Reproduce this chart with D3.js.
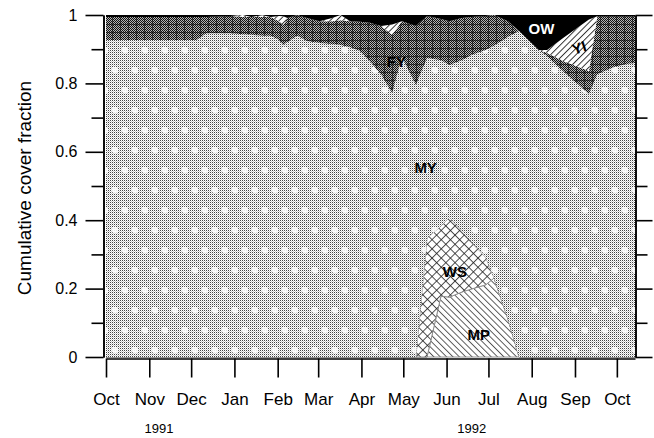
<!DOCTYPE html>
<html><head><meta charset="utf-8">
<script src="https://cdn.jsdelivr.net/npm/d3@7/dist/d3.min.js"></script>
<style>
html,body{margin:0;padding:0;background:#fff;}
svg text{font-family:"Liberation Sans",Arial,Helvetica,sans-serif;}
</style></head>
<body>
<svg id="chart" width="654" height="438"></svg>
<script>
// ---- data (fractions per sample date) ----
const dates = ["1991-10-01","1991-11-01","1991-12-05","1991-12-12","1991-12-29","1992-01-07","1992-01-13","1992-01-21","1992-01-27","1992-02-02","1992-02-05","1992-02-08","1992-02-15","1992-02-22","1992-03-02","1992-03-11","1992-03-17","1992-03-24","1992-03-31","1992-04-07","1992-04-15","1992-04-23","1992-04-30","1992-05-10","1992-05-18","1992-05-28","1992-06-03","1992-06-12","1992-06-19","1992-06-29","1992-07-05","1992-07-15","1992-07-23","1992-08-06","1992-08-12","1992-08-24","1992-09-11","1992-09-17","1992-09-29","1992-10-08","1992-10-14"];
const MP = [0,0,0,0,0,0,0,0,0,0,0,0,0,0,0,0,0,0,0,0,0,0,0,0,0,.178,.175,.190,.199,.211,.231,.111,0,0,0,0,0,0,0,0,0];
const WS = [0,0,0,0,0,0,0,0,0,0,0,0,0,0,0,0,0,0,0,0,0,0,0,0,.348,.205,.234,.178,.137,.081,0,0,0,0,0,0,0,0,0,0,0];
const MY = [.927,.927,.927,.947,.947,.944,.942,.939,.939,.927,.912,.921,.939,.924,.918,.915,.912,.906,.895,.865,.827,.772,.877,.795,.526,.485,.445,.500,.547,.606,.679,.825,.953,.898,.880,.833,.769,.827,.848,.857,.860];
const FY = [.067,.067,.067,.047,.050,.050,.052,.055,.055,.055,.059,.070,.061,.067,.064,.067,.073,.076,.085,.112,.141,.170,.105,.173,.123,.120,.128,.123,.111,.099,.090,.046,0,0,.009,.032,.067,.169,.148,.139,.136];
const YI = [0,0,0,0,0,.006,0,.005,0,.015,.025,0,0,0,0,.009,.015,0,0,0,0,.030,0,0,0,0,0,0,0,0,0,0,0,0,.009,.069,.151,0,0,0,0];
const OW = [.006,.006,.006,.006,.003,0,.006,.001,.006,.003,.004,.009,0,.009,.018,.009,0,.018,.020,.023,.032,.028,.018,.032,.003,.012,.018,.009,.006,.003,0,.018,.047,.102,.102,.066,.013,.004,.004,.004,.004];
const monthTicks = ["1991-10-01","1991-11-01","1991-12-01","1992-01-01","1992-02-01","1992-03-01","1992-04-01","1992-05-01","1992-06-01","1992-07-01","1992-08-01","1992-09-01","1992-10-01"];
const monthLabels = ["Oct","Nov","Dec","Jan","Feb","Mar","Apr","May","Jun","Jul","Aug","Sep","Oct"];
const yearLabels = [{t:"1991", d:"1991-11-08"}, {t:"1992", d:"1992-06-19"}];
const yTicks = [0,0.1,0.2,0.3,0.4,0.5,0.6,0.7,0.8,0.9,1];
const regionLabels = [
  {k:"MY", d:"1992-05-17", v:0.555},
  {k:"FY", d:"1992-04-26", v:0.865},
  {k:"WS", d:"1992-06-07", v:0.25},
  {k:"MP", d:"1992-06-24", v:0.065},
  {k:"OW", d:"1992-08-08", v:0.96},
  {k:"YI", d:"1992-09-04", v:0.905}
];
const keys = ["MP","WS","MY","FY","YI","OW"];

// ---- build ----
const parse = d3.utcParse("%Y-%m-%d");
const series = {MP,WS,MY,FY,YI,OW};
const rows = dates.map((d,i)=>{const r={date:parse(d)}; keys.forEach(k=>r[k]=series[k][i]); return r;});

const svg = d3.select("#chart");
const x = d3.scaleUtc().domain([parse("1991-10-01"), parse("1992-10-14")]).range([106,635]);
const y = d3.scaleLinear().domain([0,1]).range([357,15]);

const defs = svg.append("defs");
// MY: fine stipple + white blobs
let p = defs.append("pattern").attr("id","dots").attr("width",2).attr("height",2).attr("patternUnits","userSpaceOnUse");
p.append("rect").attr("width",2).attr("height",2).attr("fill","#fff");
p.append("rect").attr("width",1).attr("height",1).attr("fill","#444");
p.append("rect").attr("x",1).attr("y",1).attr("width",1).attr("height",1).attr("fill","#c8c8c8");
p = defs.append("pattern").attr("id","blobs").attr("width",20).attr("height",40).attr("patternUnits","userSpaceOnUse");
p.append("circle").attr("cx",5).attr("cy",10).attr("r",3.3).attr("fill","#fff").attr("fill-opacity",0.85);
p.append("circle").attr("cx",15).attr("cy",30).attr("r",3.3).attr("fill","#fff").attr("fill-opacity",0.85);
// FY: dark checker + grid
p = defs.append("pattern").attr("id","fy").attr("width",2).attr("height",2).attr("patternUnits","userSpaceOnUse");
p.append("rect").attr("width",2).attr("height",2).attr("fill","#b4b4b4");
p.append("rect").attr("width",1).attr("height",1).attr("fill","#111");
p.append("rect").attr("x",1).attr("y",1).attr("width",1).attr("height",1).attr("fill","#111");
p = defs.append("pattern").attr("id","fygrid").attr("width",8).attr("height",8).attr("patternUnits","userSpaceOnUse");
p.append("path").attr("d","M0,0.5H8M0.5,0V8").attr("stroke","#000").attr("stroke-opacity",0.55).attr("stroke-width",1);
// YI: ///
p = defs.append("pattern").attr("id","yi").attr("width",4.5).attr("height",4.5).attr("patternUnits","userSpaceOnUse").attr("patternTransform","rotate(45)");
p.append("rect").attr("width",4.5).attr("height",4.5).attr("fill","#fff");
p.append("line").attr("x1",0.5).attr("x2",0.5).attr("y1",0).attr("y2",4.5).attr("stroke","#222").attr("stroke-width",0.9);
// MP: \\\
p = defs.append("pattern").attr("id","mp").attr("width",4.5).attr("height",4.5).attr("patternUnits","userSpaceOnUse").attr("patternTransform","rotate(-45)");
p.append("rect").attr("width",4.5).attr("height",4.5).attr("fill","#fff");
p.append("line").attr("x1",0.5).attr("x2",0.5).attr("y1",0).attr("y2",4.5).attr("stroke","#333").attr("stroke-width",0.8);
// WS: crosshatch
p = defs.append("pattern").attr("id","ws").attr("width",6.5).attr("height",6.5).attr("patternUnits","userSpaceOnUse").attr("patternTransform","rotate(45)");
p.append("rect").attr("width",6.5).attr("height",6.5).attr("fill","#fff");
p.append("path").attr("d","M0.5,0V6.5M0,0.5H6.5").attr("stroke","#222").attr("stroke-width",0.8);

const stacked = d3.stack().keys(keys)(rows);
const area = d3.area().x(d=>x(d.data.date)).y0(d=>y(d[0])).y1(d=>y(d[1]));
const fills = {MP:["url(#mp)"], WS:["url(#ws)"], MY:["url(#dots)","url(#blobs)"], FY:["url(#fy)","url(#fygrid)"], YI:["url(#yi)"], OW:["#000"]};
const g = svg.append("g");
stacked.forEach(s=>{
  fills[s.key].forEach(f=>{
    g.append("path").datum(s).attr("d",area).attr("fill",f).attr("stroke","none");
  });
  if (s.key==="MP"||s.key==="WS") {
    g.append("path").datum(s).attr("d",area).attr("fill","none").attr("stroke","#888").attr("stroke-width",0.9);
  }
});

// axes
const major = yTicks.filter((t,i)=>i%2===0), minor = yTicks.filter((t,i)=>i%2===1);
const fmtY = d=> d===0?"0":d===1?"1":d3.format(".1f")(d);
svg.append("g").attr("transform","translate(103.5,0)")
  .call(d3.axisLeft(y).tickValues(minor).tickSize(12).tickSizeOuter(0).tickFormat(""))
  .call(a=>a.selectAll("line,path").attr("stroke","#000").attr("stroke-width",1.6));
svg.append("g").attr("transform","translate(103.5,0)")
  .call(d3.axisLeft(y).tickValues(major).tickSize(18).tickSizeOuter(0).tickFormat(fmtY).tickPadding(8))
  .call(a=>a.selectAll("line,path").attr("stroke","#000").attr("stroke-width",1.6))
  .call(a=>a.selectAll("text").attr("font-size",16).attr("fill","#000"));
svg.append("g").attr("transform","translate(635.5,0)")
  .call(d3.axisRight(y).tickValues(minor).tickSize(12).tickSizeOuter(0).tickFormat(""))
  .call(a=>a.selectAll("line,path").attr("stroke","#000").attr("stroke-width",1.6));
svg.append("g").attr("transform","translate(635.5,0)")
  .call(d3.axisRight(y).tickValues(major).tickSize(17).tickSizeOuter(0).tickFormat(""))
  .call(a=>a.selectAll("line,path").attr("stroke","#000").attr("stroke-width",1.6));
const mt = monthTicks.map(parse);
svg.append("g").attr("transform","translate(0,358.5)")
  .call(d3.axisBottom(x).tickValues(mt).tickSize(19).tickSizeOuter(0).tickPadding(15).tickFormat((d,i)=>monthLabels[i]))
  .call(a=>a.selectAll("line,path").attr("stroke","#000").attr("stroke-width",1.6))
  .call(a=>a.selectAll("text").attr("font-size",17).attr("fill","#000"));
svg.selectAll(".yearlbl").data(yearLabels).join("text")
  .attr("x",d=>x(parse(d.d))).attr("y",433).attr("text-anchor","middle").attr("font-size",13).text(d=>d.t);
svg.append("text").attr("transform","translate(31,188) rotate(-90)").attr("text-anchor","middle")
  .attr("font-size",19).text("Cumulative cover fraction");

// region labels
regionLabels.forEach(l=>{
  const t = svg.append("text").attr("x",x(parse(l.d))).attr("y",y(l.v)).attr("text-anchor","middle")
    .attr("dominant-baseline","central").attr("font-size",15).attr("font-weight","bold")
    .attr("fill", l.k==="OW"?"#fff":"#000").text(l.k);
  if (l.k==="YI") t.attr("transform",`rotate(-18,${x(parse(l.d))},${y(l.v)})`);
});
</script>
</body></html>
